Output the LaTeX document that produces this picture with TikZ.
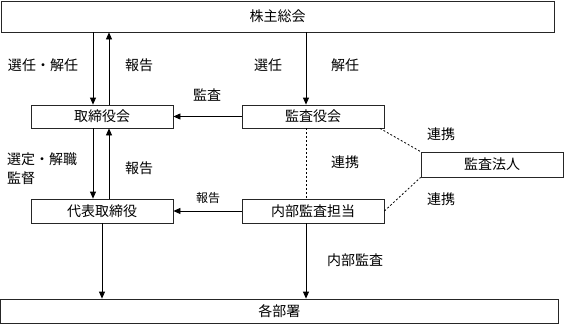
\documentclass[tikz,border=0pt]{standalone}
\usepackage{fontspec}
\setmainfont{Noto Sans CJK JP}
\usetikzlibrary{arrows.meta}
\begin{document}
\begin{tikzpicture}[x=1pt,y=-1pt,
  box/.style={draw=black!85, line width=0.8pt, inner sep=0pt, font=\fontsize{14}{16}\selectfont},
  lbl/.style={inner sep=0pt, font=\fontsize{14}{16}\selectfont},
  small/.style={inner sep=0pt, font=\fontsize{12}{14}\selectfont},
  arr/.style={-{Triangle[length=7pt,width=6pt]}, line width=0.8pt},
  dsh/.style={dash pattern=on 2pt off 2pt, line width=0.8pt}]
\useasboundingbox (0,0) rectangle (564,324);
% boxes
\node[box, minimum width=553pt, minimum height=31pt] (kabu) at (277.5,16.5) {株主総会};
\node[box, minimum width=142pt, minimum height=23pt] (tori) at (102,116.5) {取締役会};
\node[box, minimum width=142pt, minimum height=23pt] (kansa) at (313,116.5) {監査役会};
\node[box, minimum width=142pt, minimum height=25pt] (houjin) at (492,164.5) {監査法人};
\node[box, minimum width=142pt, minimum height=24pt] (daihyo) at (102,211) {代表取締役};
\node[box, minimum width=142pt, minimum height=24pt] (naibu) at (313,211) {内部監査担当};
\node[box, minimum width=557.5pt, minimum height=24pt] (kakubu) at (279.25,311) {各部署};
% guide coordinates
\coordinate (xa) at (93,0);
\coordinate (xb) at (109,0);
\coordinate (xc) at (306,0);
\coordinate (xd) at (380,0);
% arrows
\draw[arr] (kabu.south -| xa) -- (tori.north -| xa);
\draw[arr] (tori.north -| xb) -- (kabu.south -| xb);
\draw[arr] (kabu.south -| xc) -- (kansa.north -| xc);
\draw[arr] (kansa.west) -- (tori.east);
\draw[arr] (tori.south -| xa) -- (daihyo.north -| xa);
\draw[arr] (daihyo.north -| xb) -- (tori.south -| xb);
\draw[arr] (naibu.west) -- (daihyo.east);
\draw[arr] (daihyo.south) -- (kakubu.north -| daihyo.south);
\draw[arr] (naibu.south -| xc) -- (kakubu.north -| xc);
% dashed links
\draw[dsh] (kansa.south -| xc) -- (naibu.north -| xc);
\draw[dsh] (kansa.south -| xd) -- (houjin.north west);
\draw[dsh] (naibu.east) -- (houjin.south west);
% labels
\node[lbl] (l1) at (43,65) {選任・解任};
\node[lbl] (l2) at (139,65) {報告};
\node[lbl] (l3) at (268,65) {選任};
\node[lbl] (l4) at (345,65) {解任};
\node[lbl] (l5) at (207,95) {監査};
\node[lbl, anchor=west, align=left, font=\fontsize{14}{19}\selectfont] (l6) at (7,168.5) {選定・解職\\監督};
\node[lbl] (l7) at (139,168) {報告};
\node[small] (l8) at (208,198) {報告};
\node[lbl] (l9) at (345,162) {連携};
\node[lbl] (l10) at (441,134) {連携};
\node[lbl] (l11) at (441,199) {連携};
\node[lbl] (l12) at (355,260) {内部監査};
\end{tikzpicture}
\end{document}
